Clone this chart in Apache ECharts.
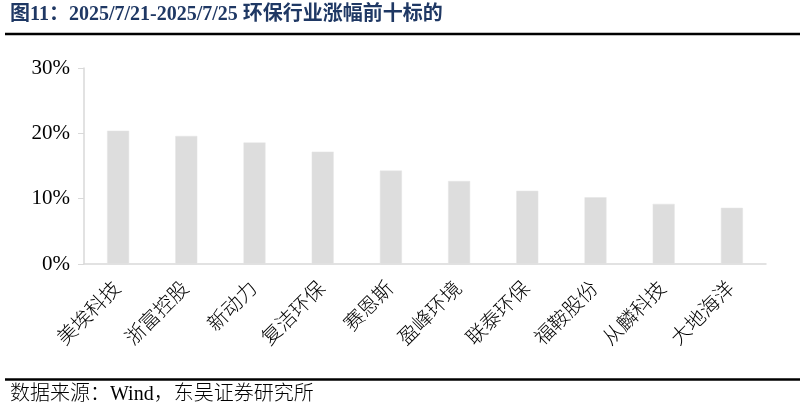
<!DOCTYPE html>
<html><head><meta charset="utf-8">
<script src="https://cdn.jsdelivr.net/npm/echarts@6/dist/echarts.min.js"></script>
<style>html,body{margin:0;padding:0;background:#fff}#c{width:805px;height:413px}</style>
</head><body><div id="c"></div>
<script>
const categories = ['美埃科技','浙富控股','新动力','复洁环保','赛恩斯','盈峰环境','联泰环保','福鞍股份','从麟科技','大地海洋'];
const values = [20.4, 19.6, 18.6, 17.2, 14.3, 12.7, 11.2, 10.2, 9.2, 8.6];
const yTicks = [0, 10, 20, 30];
const titleText = '图11：2025/7/21-2025/7/25 环保行业涨幅前十标的';
const sourceText = '数据来源：Wind，东吴证券研究所';
const serif = '"Liberation Serif","Times New Roman","Noto Sans CJK SC",serif';
const chart = echarts.init(document.getElementById('c'));
chart.setOption({
  animation: false,
  backgroundColor: '#fff',
  grid: {left: 84, right: 39, top: 68, bottom: 149},
  xAxis: {
    type: 'category', data: categories,
    axisLine: {lineStyle: {color: '#d9d9d9', width: 1.5}},
    axisTick: {show: false},
    axisLabel: {rotate: 45, interval: 0, fontFamily: serif, fontSize: 20, fontWeight: 300, color: '#000', margin: 22}
  },
  yAxis: {
    type: 'value', min: yTicks[0], max: yTicks[yTicks.length-1], interval: 10,
    axisLine: {show: true, lineStyle: {color: '#d9d9d9', width: 1.5}},
    axisTick: {show: true, inside: false, length: 6, lineStyle: {color: '#d9d9d9'}},
    splitLine: {show: false},
    axisLabel: {formatter: v => v + '%', fontFamily: serif, fontSize: 21, color: '#000', margin: 14}
  },
  series: [{
    type: 'bar', data: values, barWidth: 22,
    itemStyle: {color: '#dddddd', borderColor: '#e4e4e4', borderWidth: 0.5}
  }],
  graphic: [
    {type: 'text', left: 10, top: 5, style: {text: titleText, font: 'bold 20px ' + serif, fill: '#1f3864'}},
    {type: 'line', shape: {x1: 5, y1: 34, x2: 800, y2: 34}, style: {stroke: '#000', lineWidth: 2.5}},
    {type: 'line', shape: {x1: 5, y1: 379.5, x2: 800, y2: 379.5}, style: {stroke: '#000', lineWidth: 2.5}},
    {type: 'text', left: 10, top: 385, style: {text: sourceText, font: '300 20px ' + serif, fill: '#000'}}
  ]
});
</script></body></html>
